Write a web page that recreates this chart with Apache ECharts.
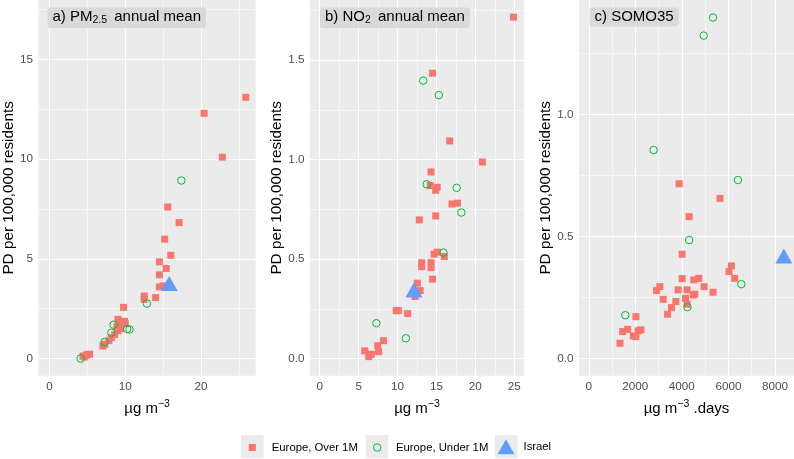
<!DOCTYPE html>
<html>
<head>
<meta charset="utf-8">
<script src="https://cdn.jsdelivr.net/npm/echarts@6.0.0/dist/echarts.min.js"></script>
<style>html,body{margin:0;padding:0;background:#fff}#c{width:794px;height:459px}</style>
</head>
<body>
<div id="c"></div>
<script>
// ---- data ----
const seriesNames = ['Europe, Over 1M', 'Europe, Under 1M', 'Israel'];

const pmOver = [[25.9,13.1],[20.4,12.3],[22.8,10.1],[15.6,7.6],[17.1,6.82],[15.2,5.99],[16.0,5.18],[14.5,4.85],[15.4,4.52],[14.5,4.2],[14.5,3.6],[15.0,3.65],[12.5,3.14],[12.5,2.97],[14.0,3.06],[9.78,2.57],[9.04,1.97],[9.9,1.87],[9.5,1.8],[9.2,1.65],[9.04,1.39],[8.6,1.2],[8.16,1.05],[7.85,0.9],[7.06,0.63],[7.3,0.72],[4.43,0.12],[4.87,0.17],[5.3,0.22],[4.6,0.08],[9.4,1.5],[8.9,1.6],[5.0,0.2],[10.0,1.75]];
const pmUnder = [[17.4,8.93],[12.85,2.76],[8.46,1.7],[8.16,1.3],[7.28,0.83],[10.26,1.49],[10.57,1.46],[4.12,0.0]];
const pmIsrael = [[15.8,3.76]];

const no2Over = [[24.9,1.716],[14.5,1.434],[16.7,1.094],[20.9,0.988],[14.3,0.938],[14.2,0.87],[15.1,0.861],[14.9,0.846],[17.0,0.777],[17.7,0.781],[14.9,0.717],[12.8,0.697],[15.1,0.535],[14.7,0.525],[16.0,0.513],[13.1,0.482],[13.1,0.462],[14.3,0.482],[14.3,0.457],[14.5,0.399],[12.55,0.379],[12.9,0.342],[12.26,0.312],[9.83,0.241],[10.1,0.241],[11.3,0.226],[8.2,0.09],[7.45,0.065],[7.57,0.035],[5.79,0.039],[6.3,0.01],[6.64,0.022]];
const no2Under = [[13.3,1.397],[15.3,1.324],[13.75,0.876],[17.6,0.858],[18.2,0.734],[15.9,0.533],[7.28,0.178],[11.07,0.102]];
const no2Israel = [[12.1,0.345]];

const somoOver = [[3884,0.717],[5640,0.657],[4313,0.582],[4013,0.428],[6130,0.38],[6027,0.357],[6270,0.329],[4013,0.328],[4727,0.329],[4513,0.323],[4956,0.295],[3056,0.295],[2913,0.279],[3841,0.282],[4227,0.282],[5341,0.272],[4556,0.264],[4485,0.261],[4156,0.247],[3199,0.243],[3742,0.234],[4227,0.223],[3556,0.209],[3385,0.182],[2027,0.172],[2242,0.118],[2127,0.114],[1671,0.12],[1457,0.111],[1913,0.093],[2027,0.09],[1342,0.063]];
const somoUnder = [[5340,1.398],[4940,1.324],[2786,0.855],[6410,0.732],[1571,0.178],[4313,0.486],[4242,0.211],[6556,0.305]];
const somoIsrael = [[8384,0.421]];

// tick breaks
const pmXMajor = [0,10,20], pmXMinor = [5,15,25];
const pmYMajor = [0,5,10,15], pmYMinor = [2.5,7.5,12.5,17.5];
const no2XMajor = [0,5,10,15,20,25], no2XMinor = [2.5,7.5,12.5,17.5,22.5];
const no2YMajor = [0,0.5,1.0,1.5], no2YMinor = [0.25,0.75,1.25,1.75];
const somoXMajor = [0,2000,4000,6000,8000], somoXMinor = [1000,3000,5000,7000];
const somoYMajor = [0,0.5,1.0], somoYMinor = [0.25,0.75,1.25];

// ---- layout / styles ----
const FONT = 'Liberation Sans, Arial, sans-serif';
const RED = '#F8766D', GREEN = '#00BA38', BLUE = '#619CFF';

const panels = [
  {left:37, width:218.7, xr:[-1.45,27.2], yr:[-0.857,17.98], xM:pmXMajor, xm:pmXMinor, yM:pmYMajor, ym:pmYMinor, yfmt:v=>String(v), over:pmOver, under:pmUnder, isr:pmIsrael,
   title:'{t|a) PM}{s|2.5}{t| \u2009annual mean}', tl:47.5, xname:'{t|µg m}{p|−3}'},
  {left:310, width:214, xr:[-1.25,26.25], yr:[-0.0858,1.802], xM:no2XMajor, xm:no2XMinor, yM:no2YMajor, ym:no2YMinor, yfmt:v=>v.toFixed(1), over:no2Over, under:no2Under, isr:no2Israel,
   title:'{t|b) NO}{s|2}{t| \u2009annual mean}', tl:320, xname:'{t|µg m}{p|−3}'},
  {left:579, width:215, xr:[-420,8820], yr:[-0.07,1.47], xM:somoXMajor, xm:somoXMinor, yM:somoYMajor, ym:somoYMinor, yfmt:v=>v.toFixed(1), over:somoOver, under:somoUnder, isr:somoIsrael,
   title:'{t|c) SOMO35}', tl:589.5, xname:'{t|µg m}{p|−3}{t| .days}'}
];

const grids = [], xAxes = [], yAxes = [], series = [], titles = [];
panels.forEach((p, i) => {
  grids.push({left:p.left, top:0, width:p.width, height:375.7, show:true, backgroundColor:'#EBEBEB', borderWidth:0, containLabel:false});
  xAxes.push({
    type:'value', gridIndex:i, min:p.xr[0], max:p.xr[1],
    axisLine:{show:false}, splitLine:{show:false},
    axisTick:{show:true, customValues:p.xM, length:3, lineStyle:{color:'#333333', width:1}},
    axisLabel:{customValues:p.xM, margin:5, color:'#4D4D4D', fontSize:11.7, fontFamily:FONT, formatter:v=>String(v)},
    name:p.xname, nameLocation:'middle', nameGap:23,
    nameTextStyle:{fontFamily:FONT, rich:{t:{fontSize:15, color:'#000', fontFamily:FONT, lineHeight:18, verticalAlign:'bottom'}, p:{fontSize:10.5, color:'#000', fontFamily:FONT, lineHeight:10, verticalAlign:'top'}}}
  });
  yAxes.push({
    type:'value', gridIndex:i, min:p.yr[0], max:p.yr[1],
    axisLine:{show:false}, splitLine:{show:false},
    axisTick:{show:true, customValues:p.yM, length:3, lineStyle:{color:'#333333', width:1}},
    axisLabel:{customValues:p.yM, margin:5.5, color:'#4D4D4D', fontSize:11.7, fontFamily:FONT, formatter:p.yfmt},
    name:'PD per 100,000 residents', nameLocation:'middle', nameGap:15,
    nameTextStyle:{fontSize:15.3, color:'#000', fontFamily:FONT}
  });
  const ml = [];
  p.xm.forEach(v => ml.push({xAxis:v, lineStyle:{width:0.55}}));
  p.ym.forEach(v => ml.push({yAxis:v, lineStyle:{width:0.55}}));
  p.xM.forEach(v => ml.push({xAxis:v, lineStyle:{width:1.1}}));
  p.yM.forEach(v => ml.push({yAxis:v, lineStyle:{width:1.1}}));
  series.push({
    type:'scatter', xAxisIndex:i, yAxisIndex:i, data:[], silent:true, z:1,
    markLine:{z:1, silent:true, symbol:['none','none'], label:{show:false}, animation:false,
      lineStyle:{color:'#FFFFFF', type:'solid'}, emphasis:{disabled:true}, data:ml}
  });
  series.push({name:seriesNames[0], type:'scatter', xAxisIndex:i, yAxisIndex:i, data:p.over, symbol:'rect', symbolSize:7,
    itemStyle:{color:RED, opacity:1}, z:6});
  series.push({name:seriesNames[1], type:'scatter', xAxisIndex:i, yAxisIndex:i, data:p.under, symbol:'circle', symbolSize:7.5,
    itemStyle:{color:'rgba(0,0,0,0)', borderColor:GREEN, borderWidth:1, opacity:1}, z:7});
  series.push({name:seriesNames[2], type:'scatter', xAxisIndex:i, yAxisIndex:i, data:p.isr, symbol:'triangle', symbolSize:[17,15],
    itemStyle:{color:BLUE, opacity:1}, z:8});
  titles.push({text:p.title, left:p.tl, top:6, padding:[2,5,2,5], backgroundColor:'#D9D9D9', borderRadius:3,
    textStyle:{fontFamily:FONT, fontWeight:'normal', rich:{t:{fontSize:15, fontWeight:'normal', color:'#000', fontFamily:FONT, lineHeight:18}, s:{fontSize:10.5, fontWeight:'normal', color:'#000', fontFamily:FONT, lineHeight:12, verticalAlign:'bottom'}}}});
});

const legTxt = {fontSize:11.3, color:'#000', fontFamily:FONT, lineHeight:14};
const legends = [
  {left:248.8, top:440.5, padding:0, itemWidth:7, itemHeight:7, selectedMode:false, textStyle:Object.assign({padding:[0,0,0,11]}, legTxt),
   data:[{name:seriesNames[0], icon:'rect', itemStyle:{color:RED}}]},
  {left:373, top:440.5, padding:0, itemWidth:7.5, itemHeight:7.5, selectedMode:false, textStyle:Object.assign({padding:[0,0,0,10]}, legTxt),
   data:[{name:seriesNames[1], icon:'circle', itemStyle:{color:'rgba(0,0,0,0)', borderColor:GREEN, borderWidth:1}}]},
  {left:497.5, top:439.3, padding:0, itemWidth:17, itemHeight:15, selectedMode:false, textStyle:Object.assign({padding:[0,0,0,4]}, legTxt),
   data:[{name:seriesNames[2], icon:'triangle', itemStyle:{color:BLUE}}]}
];

const keyBoxes = [[241,435],[365.7,435],[495,435]].map(([x,y]) => ({type:'rect', shape:{x:x, y:y, width:22.6, height:23.3}, style:{fill:'#EBEBEB'}, z:-1, silent:true}));

const chart = echarts.init(document.getElementById('c'), null, {renderer:'canvas'});
chart.setOption({
  animation:false,
  backgroundColor:'#FFFFFF',
  textStyle:{fontFamily:FONT},
  title:titles,
  grid:grids, xAxis:xAxes, yAxis:yAxes,
  legend:legends,
  graphic:keyBoxes,
  series:series
});
</script>
</body>
</html>
